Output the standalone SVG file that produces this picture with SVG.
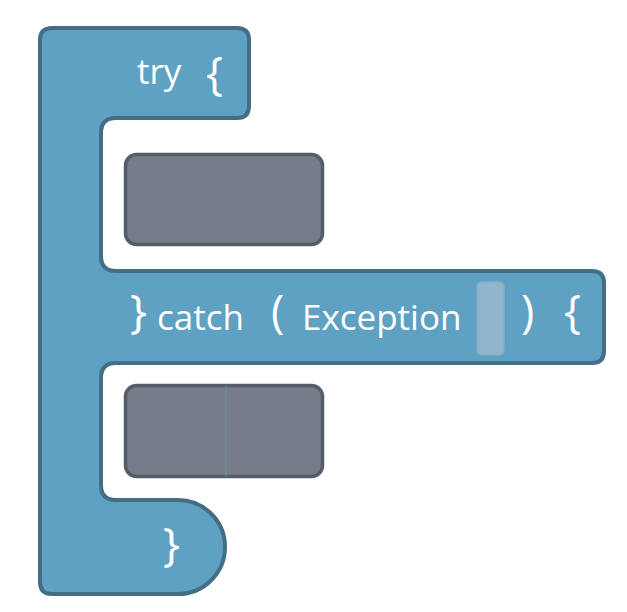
<svg xmlns="http://www.w3.org/2000/svg" width="627" height="612" viewBox="0 0 627 612">
<style>
.blk{fill:#5ea1c2;stroke:#446d86;stroke-width:4;stroke-linejoin:round}
.slot{fill:#767d88;stroke:#545d69;stroke-width:3.5}
.t{font-family:"Open Sans","Liberation Sans",sans-serif;fill:#ffffff}
.w{font-size:35px}
.b{font-size:45px}
</style>
<rect width="627" height="612" fill="#ffffff"/>
<g id="try-catch-block">
<path class="blk" d="M 52 28 H 237 Q 249 28 249 40 V 106 Q 249 118 237 118 H 116 Q 101 118 101 133 V 256 Q 101 271 116 271 H 592 Q 604 271 604 283 V 351 Q 604 363 592 363 H 116 Q 101 363 101 378 V 485 Q 101 500 116 500 H 178 A 47 47 0 0 1 178 594 H 52 Q 40 594 40 582 V 40 Q 40 28 52 28 Z"/>
<text class="t w" x="137" y="84">try</text>
<text class="t b" x="206" y="90">{</text>
<text class="t b" x="130" y="328">}</text>
<text class="t w" x="157" y="330">catch</text>
<text class="t b" x="271" y="328">(</text>
<text class="t w" x="302" y="330">Exception</text>
<text class="t b" x="521" y="328">)</text>
<text class="t b" x="564" y="328">{</text>
<text class="t b" x="163" y="561">}</text>
</g>
<g id="exception-var">
<rect x="477" y="282" width="27" height="73" rx="5" fill="#8fb6cd" stroke="#86adc5" stroke-width="1.5"/>
</g>
<g id="try-body">
<rect class="slot" x="125.5" y="154.5" width="197" height="90" rx="11"/>
</g>
<g id="catch-body">
<rect class="slot" x="125.5" y="385.5" width="197" height="91" rx="11"/>
<line x1="226" y1="385.5" x2="226" y2="476.5" stroke="#6f93ab" stroke-width="1"/>
</g>
</svg>
